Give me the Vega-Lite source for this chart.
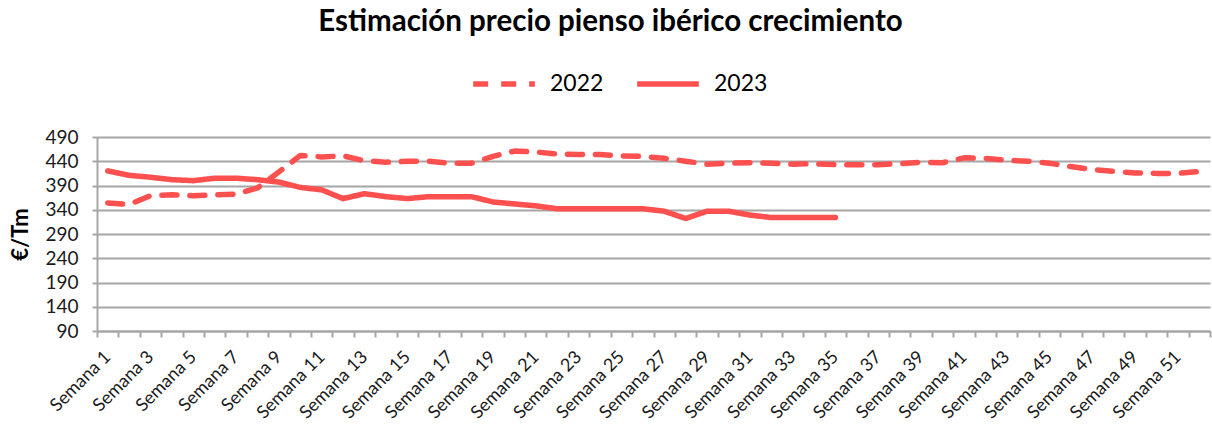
{
  "$schema": "https://vega.github.io/schema/vega-lite/v6.json",
  "width": 1113,
  "height": 194,
  "autosize": {"type": "none"},
  "padding": {"left": 97, "top": 137, "right": 2, "bottom": 96},
  "background": "white",
  "title": {
    "text": "Estimación precio pienso ibérico crecimiento",
    "font": "Lato",
    "fontSize": 29.5,
    "fontWeight": "bold",
    "color": "#000000",
    "anchor": "middle",
    "dx": -43,
    "offset": 13
  },
  "config": {
    "view": {"stroke": null},
    "font": "Lato"
  },
  "data": {
    "values": [
      {"week": "Semana 1", "w": 1, "year": "2022", "value": 354},
      {"week": "Semana 2", "w": 2, "year": "2022", "value": 351},
      {"week": "Semana 3", "w": 3, "year": "2022", "value": 369},
      {"week": "Semana 4", "w": 4, "year": "2022", "value": 371},
      {"week": "Semana 5", "w": 5, "year": "2022", "value": 369},
      {"week": "Semana 6", "w": 6, "year": "2022", "value": 371},
      {"week": "Semana 7", "w": 7, "year": "2022", "value": 372},
      {"week": "Semana 8", "w": 8, "year": "2022", "value": 385},
      {"week": "Semana 9", "w": 9, "year": "2022", "value": 418},
      {"week": "Semana 10", "w": 10, "year": "2022", "value": 452},
      {"week": "Semana 11", "w": 11, "year": "2022", "value": 449},
      {"week": "Semana 12", "w": 12, "year": "2022", "value": 451},
      {"week": "Semana 13", "w": 13, "year": "2022", "value": 441},
      {"week": "Semana 14", "w": 14, "year": "2022", "value": 438},
      {"week": "Semana 15", "w": 15, "year": "2022", "value": 440},
      {"week": "Semana 16", "w": 16, "year": "2022", "value": 440},
      {"week": "Semana 17", "w": 17, "year": "2022", "value": 436},
      {"week": "Semana 18", "w": 18, "year": "2022", "value": 436},
      {"week": "Semana 19", "w": 19, "year": "2022", "value": 450},
      {"week": "Semana 20", "w": 20, "year": "2022", "value": 461},
      {"week": "Semana 21", "w": 21, "year": "2022", "value": 459},
      {"week": "Semana 22", "w": 22, "year": "2022", "value": 455},
      {"week": "Semana 23", "w": 23, "year": "2022", "value": 454},
      {"week": "Semana 24", "w": 24, "year": "2022", "value": 454},
      {"week": "Semana 25", "w": 25, "year": "2022", "value": 451},
      {"week": "Semana 26", "w": 26, "year": "2022", "value": 450},
      {"week": "Semana 27", "w": 27, "year": "2022", "value": 446},
      {"week": "Semana 28", "w": 28, "year": "2022", "value": 440},
      {"week": "Semana 29", "w": 29, "year": "2022", "value": 434},
      {"week": "Semana 30", "w": 30, "year": "2022", "value": 436},
      {"week": "Semana 31", "w": 31, "year": "2022", "value": 437},
      {"week": "Semana 32", "w": 32, "year": "2022", "value": 436},
      {"week": "Semana 33", "w": 33, "year": "2022", "value": 434},
      {"week": "Semana 34", "w": 34, "year": "2022", "value": 435},
      {"week": "Semana 35", "w": 35, "year": "2022", "value": 433},
      {"week": "Semana 36", "w": 36, "year": "2022", "value": 433},
      {"week": "Semana 37", "w": 37, "year": "2022", "value": 433},
      {"week": "Semana 38", "w": 38, "year": "2022", "value": 435},
      {"week": "Semana 39", "w": 39, "year": "2022", "value": 438},
      {"week": "Semana 40", "w": 40, "year": "2022", "value": 437},
      {"week": "Semana 41", "w": 41, "year": "2022", "value": 447},
      {"week": "Semana 42", "w": 42, "year": "2022", "value": 446},
      {"week": "Semana 43", "w": 43, "year": "2022", "value": 442},
      {"week": "Semana 44", "w": 44, "year": "2022", "value": 440},
      {"week": "Semana 45", "w": 45, "year": "2022", "value": 436},
      {"week": "Semana 46", "w": 46, "year": "2022", "value": 429},
      {"week": "Semana 47", "w": 47, "year": "2022", "value": 423},
      {"week": "Semana 48", "w": 48, "year": "2022", "value": 419},
      {"week": "Semana 49", "w": 49, "year": "2022", "value": 416},
      {"week": "Semana 50", "w": 50, "year": "2022", "value": 415},
      {"week": "Semana 51", "w": 51, "year": "2022", "value": 415},
      {"week": "Semana 52", "w": 52, "year": "2022", "value": 419},
      {"week": "Semana 1", "w": 1, "year": "2023", "value": 420},
      {"week": "Semana 2", "w": 2, "year": "2023", "value": 411},
      {"week": "Semana 3", "w": 3, "year": "2023", "value": 407},
      {"week": "Semana 4", "w": 4, "year": "2023", "value": 402},
      {"week": "Semana 5", "w": 5, "year": "2023", "value": 400},
      {"week": "Semana 6", "w": 6, "year": "2023", "value": 405},
      {"week": "Semana 7", "w": 7, "year": "2023", "value": 405},
      {"week": "Semana 8", "w": 8, "year": "2023", "value": 402},
      {"week": "Semana 9", "w": 9, "year": "2023", "value": 397},
      {"week": "Semana 10", "w": 10, "year": "2023", "value": 386},
      {"week": "Semana 11", "w": 11, "year": "2023", "value": 381},
      {"week": "Semana 12", "w": 12, "year": "2023", "value": 363},
      {"week": "Semana 13", "w": 13, "year": "2023", "value": 373},
      {"week": "Semana 14", "w": 14, "year": "2023", "value": 367},
      {"week": "Semana 15", "w": 15, "year": "2023", "value": 363},
      {"week": "Semana 16", "w": 16, "year": "2023", "value": 367},
      {"week": "Semana 17", "w": 17, "year": "2023", "value": 367},
      {"week": "Semana 18", "w": 18, "year": "2023", "value": 367},
      {"week": "Semana 19", "w": 19, "year": "2023", "value": 356},
      {"week": "Semana 20", "w": 20, "year": "2023", "value": 352},
      {"week": "Semana 21", "w": 21, "year": "2023", "value": 348},
      {"week": "Semana 22", "w": 22, "year": "2023", "value": 342},
      {"week": "Semana 23", "w": 23, "year": "2023", "value": 342},
      {"week": "Semana 24", "w": 24, "year": "2023", "value": 342},
      {"week": "Semana 25", "w": 25, "year": "2023", "value": 342},
      {"week": "Semana 26", "w": 26, "year": "2023", "value": 342},
      {"week": "Semana 27", "w": 27, "year": "2023", "value": 337},
      {"week": "Semana 28", "w": 28, "year": "2023", "value": 322},
      {"week": "Semana 29", "w": 29, "year": "2023", "value": 337},
      {"week": "Semana 30", "w": 30, "year": "2023", "value": 337},
      {"week": "Semana 31", "w": 31, "year": "2023", "value": 329},
      {"week": "Semana 32", "w": 32, "year": "2023", "value": 324},
      {"week": "Semana 33", "w": 33, "year": "2023", "value": 324},
      {"week": "Semana 34", "w": 34, "year": "2023", "value": 324},
      {"week": "Semana 35", "w": 35, "year": "2023", "value": 324}
    ]
  },
  "mark": {
    "type": "line",
    "color": "#FF5050",
    "strokeWidth": 5.5,
    "strokeCap": "round",
    "strokeJoin": "round"
  },
  "encoding": {
    "x": {
      "field": "week",
      "type": "ordinal",
      "sort": {"field": "w", "op": "min"},
      "scale": {"type": "band", "paddingInner": 0, "paddingOuter": 0},
      "axis": {
        "title": null,
        "labelAngle": -45,
        "labelAlign": "right",
        "labelBaseline": "middle",
        "labelFontSize": 18,
        "labelColor": "#1a1a1a",
        "labelPadding": 17,
        "labelExpr": "test(/[13579]$/, datum.value) ? datum.value : ''",
        "tickBand": "extent",
        "tickColor": "#A6A6A6",
        "tickWidth": 2,
        "tickSize": 6,
        "domainColor": "#A6A6A6",
        "domainWidth": 2,
        "grid": false,
        "labelOverlap": false
      }
    },
    "y": {
      "field": "value",
      "type": "quantitative",
      "scale": {"domain": [90, 490], "nice": false, "zero": false},
      "axis": {
        "title": "€/Tm",
        "titleFontSize": 22,
        "titleFontWeight": "bold",
        "titleColor": "#000000",
        "titlePadding": 12,
        "values": [90, 140, 190, 240, 290, 340, 390, 440, 490],
        "labelFontSize": 19,
        "labelColor": "#1a1a1a",
        "labelPadding": 14,
        "tickColor": "#A6A6A6",
        "tickWidth": 2,
        "tickSize": 5,
        "domainColor": "#A6A6A6",
        "domainWidth": 2,
        "gridColor": "#A6A6A6",
        "gridWidth": 2
      }
    },
    "strokeDash": {
      "field": "year",
      "type": "nominal",
      "scale": {"domain": ["2022", "2023"], "range": [[15, 13], [1, 0]]},
      "legend": {
        "title": null,
        "orient": "none",
        "direction": "horizontal",
        "legendX": 373,
        "legendY": -87,
        "symbolType": "stroke",
        "symbolSize": 3800,
        "symbolStrokeWidth": 5.5,
        "symbolStrokeColor": "#FF5050",
        "labelFontSize": 23,
        "labelColor": "#000000",
        "labelOffset": 12,
        "columnPadding": 22
      }
    }
  }
}
